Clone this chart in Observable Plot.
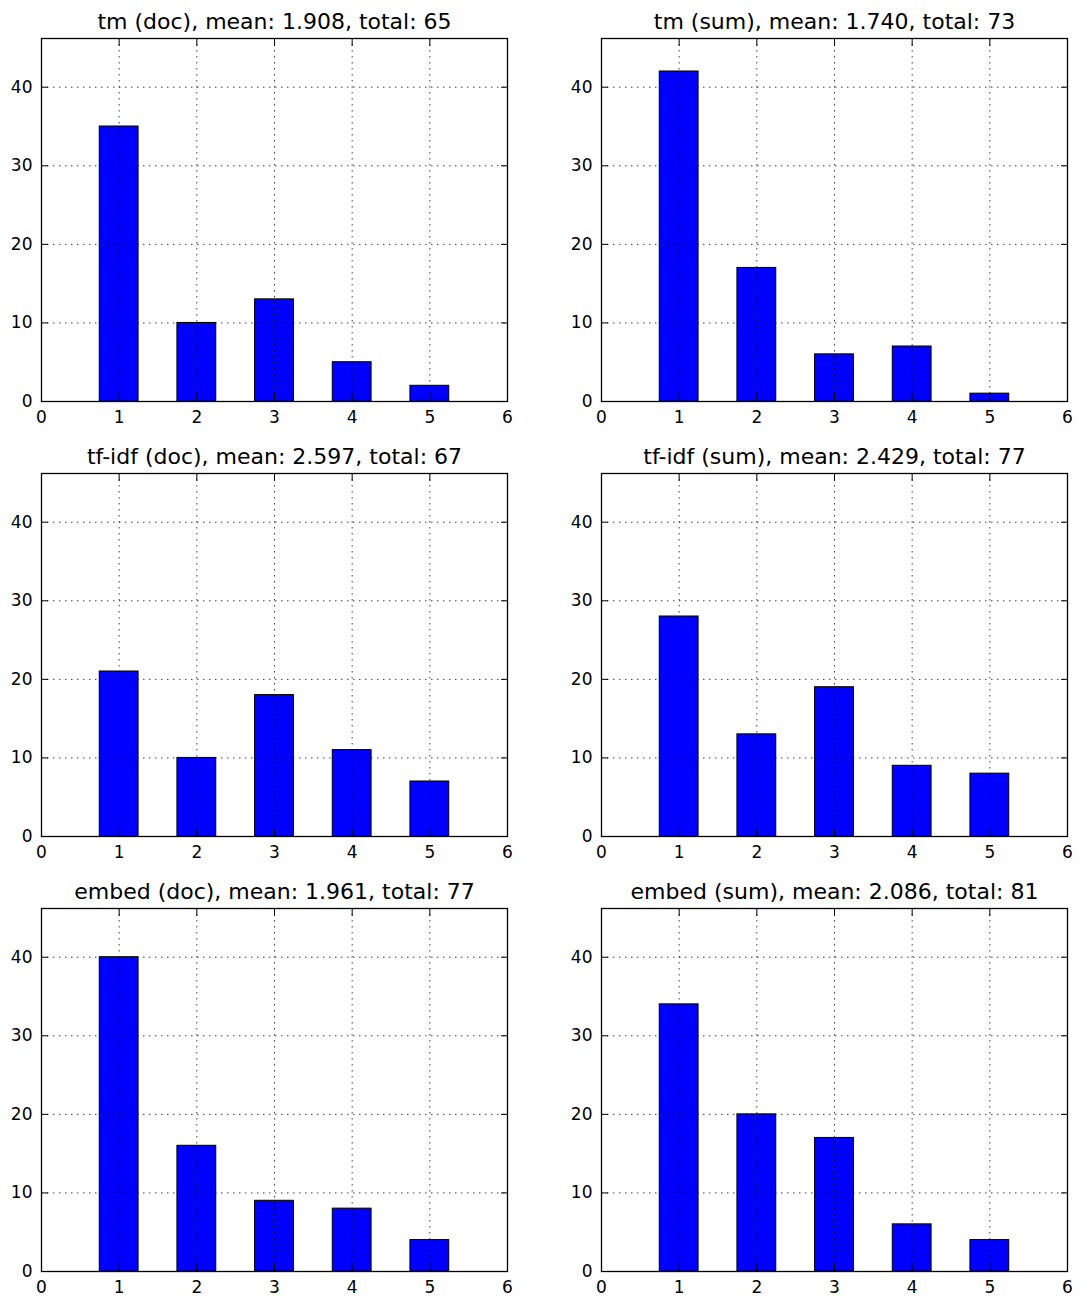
<!DOCTYPE html>
<html>
<head>
<meta charset="utf-8">
<script src="https://cdn.jsdelivr.net/npm/d3@7"></script>
<script src="https://cdn.jsdelivr.net/npm/@observablehq/plot@0.6"></script>
<style>
  html, body { margin: 0; padding: 0; background: #fff; overflow: hidden; }
  #root { position: relative; width: 1081px; height: 1297px; background: #fff; }
  .panel { position: absolute; }
</style>
</head>
<body>
<div id="root"></div>
<script>
// ---- data ----
const bins = [1, 2, 3, 4, 5];
const tmDoc = [35, 10, 13, 5, 2];
const tmSum = [42, 17, 6, 7, 1];
const tfidfDoc = [21, 10, 18, 11, 7];
const tfidfSum = [28, 13, 19, 9, 8];
const embedDoc = [40, 16, 9, 8, 4];
const embedSum = [34, 20, 17, 6, 4];
const titles = [
  "tm (doc), mean: 1.908, total: 65",
  "tm (sum), mean: 1.740, total: 73",
  "tf-idf (doc), mean: 2.597, total: 67",
  "tf-idf (sum), mean: 2.429, total: 77",
  "embed (doc), mean: 1.961, total: 77",
  "embed (sum), mean: 2.086, total: 81"
];
const xTicks = [0, 1, 2, 3, 4, 5, 6];
const yTicks = [0, 10, 20, 30, 40];
const xDomain = [0, 6];
const yDomain = [0, 46.2];
const barHalfWidth = 0.25;

const seriesList = [tmDoc, tmSum, tfidfDoc, tfidfSum, embedDoc, embedSum];

const root = document.getElementById("root");
const gridX = xTicks.filter(v => v > xDomain[0] && v < xDomain[1]);
const gridY = yTicks.filter(v => v > yDomain[0] && v < yDomain[1]);
const intFmt = d3.format("d");
const blank = () => "";

seriesList.forEach((counts, i) => {
  const col = i % 2, row = Math.floor(i / 2);
  const data = bins.map((b, j) => ({bin: b, count: counts[j]}));
  const gridStyle = {stroke: "black", strokeOpacity: 0.75, strokeWidth: 1, strokeDasharray: "1.5,4.5"};
  const chart = Plot.plot({
    width: 521,
    height: 427,
    marginLeft: 41,
    marginRight: 14,
    marginTop: 38,
    marginBottom: 26,
    x: {domain: xDomain},
    y: {domain: yDomain},
    style: {fontFamily: "DejaVu Sans", fontSize: "17px", color: "black", background: "white"},
    marks: [
      Plot.rectY(data, {
        x1: d => d.bin - barHalfWidth,
        x2: d => d.bin + barHalfWidth,
        y: "count",
        fill: "#0000ff",
        stroke: "black",
        strokeWidth: 1
      }),
      Plot.gridX(gridX, gridStyle),
      Plot.gridY(gridY, gridStyle),
      Plot.axisX({ticks: xTicks, anchor: "bottom", tickSize: 0, tickPadding: 9, tickFormat: intFmt, label: null}),
      Plot.axisX({ticks: xTicks, anchor: "bottom", tickSize: -7, tickFormat: blank, label: null, strokeWidth: 1}),
      Plot.axisX({ticks: xTicks, anchor: "top", tickSize: -7, tickFormat: blank, label: null, strokeWidth: 1}),
      Plot.axisY({ticks: yTicks, anchor: "left", tickSize: 0, tickPadding: 9, tickFormat: intFmt, label: null}),
      Plot.axisY({ticks: yTicks, anchor: "left", tickSize: -7, tickFormat: blank, label: null, strokeWidth: 1}),
      Plot.axisY({ticks: yTicks, anchor: "right", tickSize: -7, tickFormat: blank, label: null, strokeWidth: 1}),
      Plot.frame({stroke: "black", strokeWidth: 1.3}),
      Plot.text([titles[i]], {frameAnchor: "top", dy: -10, lineAnchor: "bottom", fontSize: 22, fill: "black"})
    ]
  });
  const wrap = document.createElement("div");
  wrap.className = "panel";
  wrap.style.left = (col * 560) + "px";
  wrap.style.top = (row * 435) + "px";
  wrap.appendChild(chart);
  root.appendChild(wrap);
});
</script>
</body>
</html>
